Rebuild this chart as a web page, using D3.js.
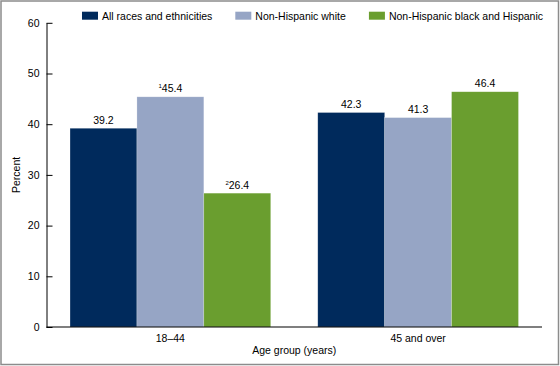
<!DOCTYPE html>
<html>
<head>
<meta charset="utf-8">
<script src="https://cdn.jsdelivr.net/npm/d3@7"></script>
<style>
	body { margin: 0; background: #fff; }
	svg { display: block; font-family: "Liberation Sans", Arial, sans-serif; }
</style>
</head>
<body>
<svg></svg>
<script>
const groups = ['18\u201344', '45 and over']
const series = ['All races and ethnicities', 'Non-Hispanic white', 'Non-Hispanic black and Hispanic']
const colors = ['#002a5c', '#96a5c5', '#6a9e2f']
const allRaces = [39.2, 42.3]
const white = [45.4, 41.3]
const blackHispanic = [26.4, 46.4]
// superscript footnote marks in front of a value label
const notes = [['', '1', '2'], ['', '', '']]
const yTicks = [0, 10, 20, 30, 40, 50, 60]

const values = [allRaces, white, blackHispanic]
const width = 560
const height = 366
const fontSize = 10.5
const margin = {left: 46.5, right: 18, top: 22.8, bottom: 39}

const svg = d3.select('svg')
	.attr('width', width)
	.attr('height', height)

svg.append('rect')
	.attr('x', 1).attr('y', 1)
	.attr('width', width - 2.5).attr('height', height - 2.5)
	.attr('fill', 'none')
	.attr('stroke', '#8c8c8c')
	.attr('stroke-width', 1.5)

const x0 = d3.scaleBand()
	.domain(groups)
	.range([margin.left, width - margin.right])
	.paddingInner(0.19)
	.paddingOuter(0.095)

const x1 = d3.scaleBand()
	.domain(series)
	.range([0, x0.bandwidth()])

const y = d3.scaleLinear()
	.domain([0, 60])
	.range([height - margin.bottom, margin.top])

const color = d3.scaleOrdinal().domain(series).range(colors)

let bars = []
groups.forEach((g, gi) => {
	series.forEach((s, si) => {
		bars.push({group: g, series: s, value: values[si][gi], note: notes[gi][si]})
	})
})

svg.append('g')
	.selectAll('rect')
	.data(bars)
	.join('rect')
		.attr('x', d => x0(d.group) + x1(d.series))
		.attr('y', d => y(d.value))
		.attr('width', x1.bandwidth())
		.attr('height', d => y(0) - y(d.value))
		.attr('fill', d => color(d.series))
		.attr('stroke', '#fff')
		.attr('stroke-opacity', 0.35)
		.attr('stroke-width', 0.6)

const labels = svg.append('g')
	.selectAll('text')
	.data(bars)
	.join('text')
		.attr('x', d => x0(d.group) + x1(d.series) + x1.bandwidth() / 2)
		.attr('y', d => y(d.value) - 4.5)
		.attr('text-anchor', 'middle')
		.attr('font-size', fontSize)
		.attr('fill', '#000')
labels.filter(d => d.note != '')
	.append('tspan')
		.attr('font-size', 6)
		.attr('dy', -4)
		.text(d => d.note)
labels.append('tspan')
	.attr('dy', d => d.note != '' ? 4 : 0)
	.text(d => d.value.toFixed(1))

const yAxis = svg.append('g')
	.attr('transform', `translate(${margin.left},0)`)
	.call(d3.axisLeft(y).tickValues(yTicks).tickSizeInner(-6).tickSizeOuter(0).tickPadding(7))
yAxis.select('.domain').attr('stroke', '#000')
yAxis.selectAll('.tick line').attr('stroke', '#000')
yAxis.selectAll('text')
	.attr('font-size', fontSize)
	.attr('font-family', '"Liberation Sans", Arial, sans-serif')
	.attr('fill', '#000')

svg.append('line')
	.attr('x1', margin.left)
	.attr('x2', width - margin.right)
	.attr('y1', y(0))
	.attr('y2', y(0))
	.attr('stroke', '#000')
	.attr('stroke-width', 1.2)

svg.append('g')
	.selectAll('text')
	.data(groups)
	.join('text')
		.attr('x', d => x0(d) + x0.bandwidth() / 2)
		.attr('y', y(0) + 14.5)
		.attr('text-anchor', 'middle')
		.attr('font-size', fontSize)
		.text(d => d)

svg.append('text')
	.attr('x', (margin.left + width - margin.right) / 2)
	.attr('y', y(0) + 27)
	.attr('text-anchor', 'middle')
	.attr('font-size', fontSize)
	.text('Age group (years)')

svg.append('text')
	.attr('transform', `translate(19.5,${(y(0) + y(60)) / 2}) rotate(-90)`)
	.attr('text-anchor', 'middle')
	.attr('font-size', fontSize)
	.text('Percent')

// legend, right aligned to the end of the x axis
const legend = svg.append('g')
let lx = 0
const items = legend.selectAll('g')
	.data(series)
	.join('g')
items.append('rect')
	.attr('width', 16)
	.attr('height', 8)
	.attr('y', -8)
	.attr('fill', d => color(d))
items.append('text')
	.attr('x', 20)
	.attr('font-size', fontSize)
	.text(d => d)
items.each(function() {
	d3.select(this).attr('transform', `translate(${lx},0)`)
	lx += this.getBBox().width + 23
})
lx -= 23
legend.attr('transform', `translate(${width - margin.right - lx + 1},19.7)`)
</script>
</body>
</html>
